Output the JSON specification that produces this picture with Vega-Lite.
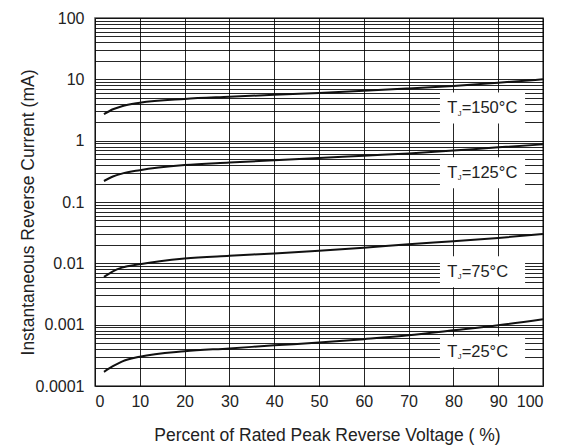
{
  "$schema": "https://vega.github.io/schema/vega-lite/v6.json",
  "width": 448,
  "height": 368,
  "autosize": "none",
  "padding": {"left": 95, "top": 18, "right": 23, "bottom": 61},
  "background": "white",
  "config": {"view": {"stroke": "#555", "strokeWidth": 1.5}, "font": "Liberation Sans"},
  "datasets": {
    "curves": [
      {"T": "150", "x": 2, "y": 2.7}, {"T": "150", "x": 4, "y": 3.25}, {"T": "150", "x": 6, "y": 3.65}, {"T": "150", "x": 10, "y": 4.15}, {"T": "150", "x": 20, "y": 4.8}, {"T": "150", "x": 30, "y": 5.2}, {"T": "150", "x": 40, "y": 5.6}, {"T": "150", "x": 50, "y": 6.0}, {"T": "150", "x": 60, "y": 6.5}, {"T": "150", "x": 70, "y": 7.1}, {"T": "150", "x": 80, "y": 7.8}, {"T": "150", "x": 90, "y": 8.8}, {"T": "150", "x": 100, "y": 10},
      {"T": "125", "x": 2, "y": 0.22}, {"T": "125", "x": 4, "y": 0.26}, {"T": "125", "x": 6, "y": 0.29}, {"T": "125", "x": 10, "y": 0.33}, {"T": "125", "x": 20, "y": 0.4}, {"T": "125", "x": 30, "y": 0.44}, {"T": "125", "x": 40, "y": 0.48}, {"T": "125", "x": 50, "y": 0.52}, {"T": "125", "x": 60, "y": 0.57}, {"T": "125", "x": 70, "y": 0.62}, {"T": "125", "x": 80, "y": 0.69}, {"T": "125", "x": 90, "y": 0.78}, {"T": "125", "x": 100, "y": 0.87},
      {"T": "75", "x": 2, "y": 0.006}, {"T": "75", "x": 4, "y": 0.0074}, {"T": "75", "x": 6, "y": 0.0085}, {"T": "75", "x": 10, "y": 0.0097}, {"T": "75", "x": 20, "y": 0.012}, {"T": "75", "x": 30, "y": 0.0133}, {"T": "75", "x": 40, "y": 0.0145}, {"T": "75", "x": 50, "y": 0.016}, {"T": "75", "x": 60, "y": 0.018}, {"T": "75", "x": 70, "y": 0.0205}, {"T": "75", "x": 80, "y": 0.023}, {"T": "75", "x": 90, "y": 0.026}, {"T": "75", "x": 100, "y": 0.03},
      {"T": "25", "x": 2, "y": 0.00017}, {"T": "25", "x": 4, "y": 0.00021}, {"T": "25", "x": 6, "y": 0.00025}, {"T": "25", "x": 10, "y": 0.0003}, {"T": "25", "x": 20, "y": 0.00037}, {"T": "25", "x": 30, "y": 0.00041}, {"T": "25", "x": 40, "y": 0.00046}, {"T": "25", "x": 50, "y": 0.00051}, {"T": "25", "x": 60, "y": 0.00058}, {"T": "25", "x": 70, "y": 0.00067}, {"T": "25", "x": 80, "y": 0.00081}, {"T": "25", "x": 90, "y": 0.00098}, {"T": "25", "x": 100, "y": 0.00123}
    ],
    "boxes": [
      {"T": "150", "x": 77, "x2": 96, "y": 1.9, "y2": 6.1},
      {"T": "125", "x": 77, "x2": 96, "y": 0.168, "y2": 0.537},
      {"T": "75", "x": 77, "x2": 96, "y": 0.00408, "y2": 0.0131},
      {"T": "25", "x": 77, "x2": 96, "y": 0.000201, "y2": 0.000644}
    ],
    "labels": [
      {"a": "T", "b": "J", "c": "=150°C", "x": 78.6, "y": 3.4},
      {"a": "T", "b": "J", "c": "=125°C", "x": 78.6, "y": 0.3},
      {"a": "T", "b": "J", "c": "=75°C", "x": 78.6, "y": 0.0073},
      {"a": "T", "b": "J", "c": "=25°C", "x": 78.6, "y": 0.00036}
    ]
  },
  "encoding": {
    "x": {
      "field": "x", "type": "quantitative",
      "scale": {"domain": [0, 100], "nice": false, "zero": false},
      "axis": {
        "title": "Percent of Rated Peak Reverse Voltage ( %)",
        "values": [0, 10, 20, 30, 40, 50, 60, 70, 80, 90, 100],
        "grid": true, "gridColor": "#000", "gridOpacity": 0.85, "gridWidth": 1,
        "ticks": false, "domain": false,
        "labelFont": "Liberation Sans", "labelFontSize": 16, "labelColor": "#222", "labelPadding": 7,
        "titleFont": "Liberation Sans", "titleFontSize": 17.5, "titleFontWeight": "normal", "titleColor": "#222",
        "titleX": 232, "titleAlign": "center", "titleY": 49, "titleBaseline": "middle"
      }
    },
    "y": {
      "field": "y", "type": "quantitative",
      "scale": {"type": "log", "domain": [0.0001, 100], "nice": false},
      "axis": {
        "title": "Instantaneous Reverse Current (mA)",
        "values": [0.0001, 0.0002, 0.0003, 0.0004, 0.0005, 0.0006, 0.0007, 0.0008, 0.0009, 0.001, 0.002, 0.003, 0.004, 0.005, 0.006, 0.007, 0.008, 0.009, 0.01, 0.02, 0.03, 0.04, 0.05, 0.06, 0.07, 0.08, 0.09, 0.1, 0.2, 0.3, 0.4, 0.5, 0.6, 0.7, 0.8, 0.9, 1, 2, 3, 4, 5, 6, 7, 8, 9, 10, 20, 30, 40, 50, 60, 70, 80, 90, 100],
        "labelExpr": "indexof(['0.0001','0.001','0.01','0.1','1','10','100'], format(datum.value,'~g')) >= 0 ? format(datum.value,'~g') : ''",
        "labelOverlap": false,
        "grid": true, "gridColor": "#000", "gridOpacity": 0.85, "gridWidth": 1,
        "ticks": false, "domain": false,
        "labelFont": "Liberation Sans", "labelFontSize": 16, "labelColor": "#222", "labelPadding": 11,
        "titleFont": "Liberation Sans", "titleFontSize": 17.5, "titleFontWeight": "normal", "titleColor": "#222",
        "titleX": -67, "titleY": 194, "titleAngle": -90, "titleAlign": "center", "titleBaseline": "middle"
      }
    }
  },
  "layer": [
    {
      "data": {"name": "curves"},
      "mark": {"type": "line", "color": "#111", "strokeWidth": 2, "interpolate": "monotone"},
      "encoding": {"detail": {"field": "T", "type": "nominal"}}
    },
    {
      "data": {"name": "boxes"},
      "mark": {"type": "rect", "color": "white", "opacity": 1},
      "encoding": {"x2": {"field": "x2"}, "y2": {"field": "y2"}}
    },
    {
      "data": {"name": "labels"},
      "mark": {"type": "text", "align": "left", "baseline": "middle", "fontSize": 16.5, "font": "Liberation Sans", "color": "#222"},
      "encoding": {"text": {"field": "a"}}
    },
    {
      "data": {"name": "labels"},
      "mark": {"type": "text", "align": "left", "baseline": "middle", "fontSize": 7.5, "dx": 10.5, "dy": 5.5, "font": "Liberation Sans", "color": "#222"},
      "encoding": {"text": {"field": "b"}}
    },
    {
      "data": {"name": "labels"},
      "mark": {"type": "text", "align": "left", "baseline": "middle", "fontSize": 16.5, "dx": 14.5, "font": "Liberation Sans", "color": "#222"},
      "encoding": {"text": {"field": "c"}}
    }
  ]
}
